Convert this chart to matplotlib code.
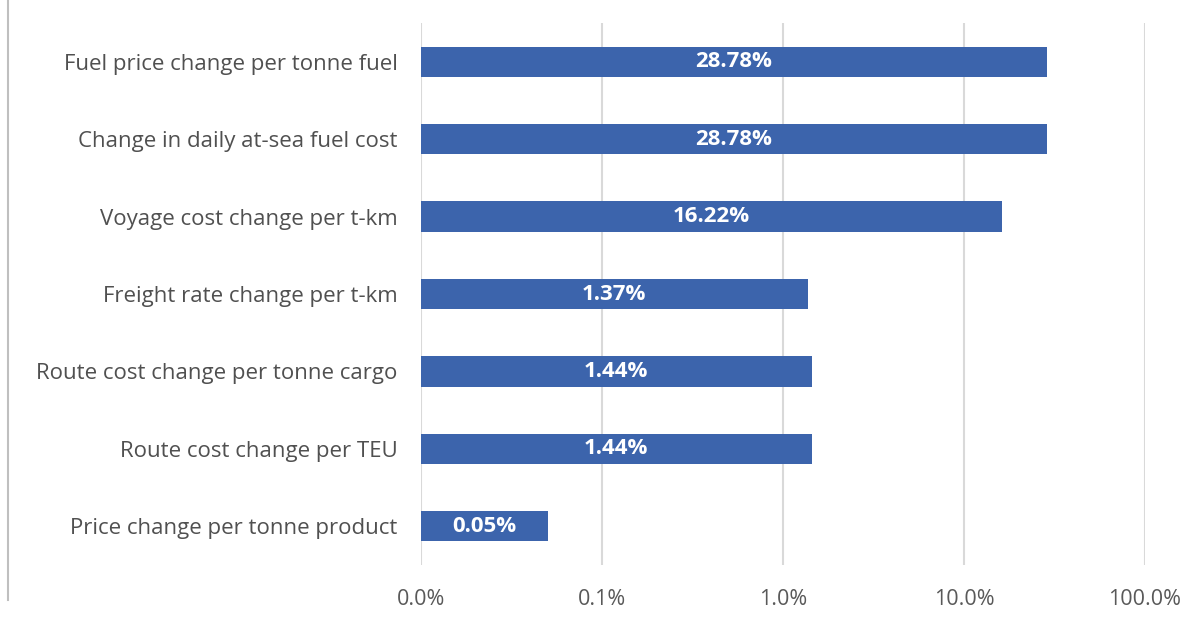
import numpy as np
import matplotlib
matplotlib.use("Agg")
import matplotlib.pyplot as plt
from matplotlib.ticker import FixedLocator, FixedFormatter

categories = [
    "Fuel price change per tonne fuel",
    "Change in daily at-sea fuel cost",
    "Voyage cost change per t-km",
    "Freight rate change per t-km",
    "Route cost change per tonne cargo",
    "Route cost change per TEU",
    "Price change per tonne product",
]
values = [28.78, 28.78, 16.22, 1.37, 1.44, 1.44, 0.05]  # percent
value_labels = ["28.78%", "28.78%", "16.22%", "1.37%", "1.44%", "1.44%", "0.05%"]
tick_values = [0.01, 0.1, 1, 10, 100]
tick_labels = ["0.0%", "0.1%", "1.0%", "10.0%", "100.0%"]

plt.rcParams['font.family'] = ['Open Sans', 'DejaVu Sans']

fig = plt.figure(figsize=(11.9, 6.19), dpi=100)
ax = fig.add_axes([421/1190, 1 - 565/619, (1145-421)/1190, (565-23)/619])

base = tick_values[0]
y = np.arange(len(categories))[::-1]
ax.barh(y, [v - base for v in values], left=base, height=0.39, color="#3c64ac", zorder=3)
for yi, v, lab in zip(y, values, value_labels):
    ax.text(np.sqrt(base * v), yi, lab, ha="center", va="center", color="white",
            fontsize=16, fontweight="bold", zorder=4)

ax.set_xscale("log")
ax.set_xlim(tick_values[0], tick_values[-1])
ax.set_ylim(-0.5, len(categories) - 0.5)
ax.xaxis.set_major_locator(FixedLocator(tick_values))
ax.xaxis.set_major_formatter(FixedFormatter(tick_labels))
ax.xaxis.set_minor_locator(FixedLocator([]))
ax.set_yticks(y)
ax.set_yticklabels(categories)
ax.tick_params(axis="y", length=0, pad=17, labelsize=16, labelcolor="#505050")
ax.tick_params(axis="x", length=0, pad=17, labelsize=15.5, labelcolor="#595959")
ax.grid(axis="x", color="#d9d9d9", linewidth=1.5, zorder=0)
for s in ax.spines.values():
    s.set_visible(False)

fig.add_artist(plt.Line2D([8/1190, 8/1190], [1 - 600/619, 1.0], color="#bfbfbf", linewidth=1.5))

fig.savefig("out.png", dpi=100)
